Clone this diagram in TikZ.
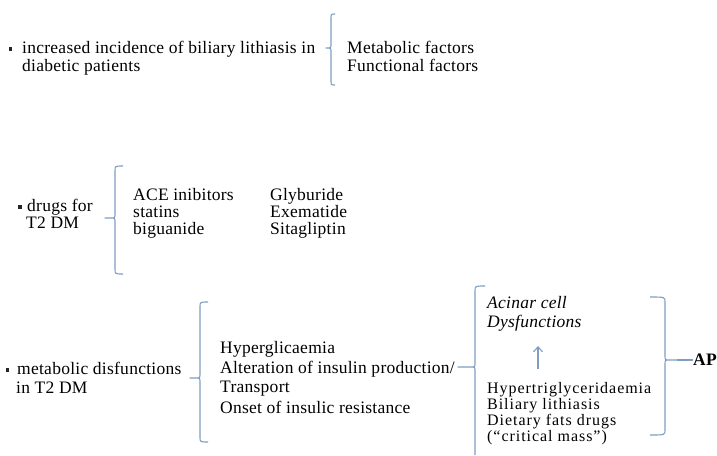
\documentclass[tikz,border=0pt]{standalone}
\usepackage{fontspec}
\setmainfont{Liberation Serif}[LetterSpace=1.5]
\usetikzlibrary{arrows.meta}
\definecolor{brc}{HTML}{7F9DC3}
\tikzset{
  brace/.style={draw=brc, line width=1.1pt, line join=round},
  txt/.style={anchor=base west, inner sep=0pt, text=black},
  txtsm/.style={txt, font=\fontsize{16}{17}\selectfont\addfontfeature{LetterSpace=6}},
  bul/.style={rectangle, fill=black!85, inner sep=0pt, minimum size=3.5pt},
  uparrow/.style={draw=brc, line width=1.1pt, -{Straight Barb[length=5pt,width=9pt]}},
}
% left brace: x, top, mid, bottom, hook, tip
\newcommand\bracL[6]{%
  \draw[brace] ({#1+#5},#2) .. controls (#1,#2) .. (#1,{#2+5})
    -- (#1,{#3-5}) .. controls (#1,#3) .. ({#1-4},#3) -- ({#1-#6},#3)
    -- ({#1-4},#3) .. controls (#1,#3) .. (#1,{#3+5})
    -- (#1,{#4-5}) .. controls (#1,#4) .. ({#1+#5},#4);}
% right brace
\newcommand\bracR[6]{%
  \draw[brace] ({#1-#5},#2) .. controls (#1,#2) .. (#1,{#2+5})
    -- (#1,{#3-5}) .. controls (#1,#3) .. ({#1+4},#3) -- ({#1+#6},#3)
    -- ({#1+4},#3) .. controls (#1,#3) .. (#1,{#3+5})
    -- (#1,{#4-5}) .. controls (#1,#4) .. ({#1-#5},#4);}
\begin{document}
\begin{tikzpicture}[x=1pt,y=-1pt,font=\fontsize{17.5}{19}\selectfont]
\useasboundingbox[fill=white] (0,0) rectangle (717,455);

% block 1
\node[bul] (b1) at (10.5,49) {};
\node[txt] (t1a) at (22,53) {increased incidence of biliary lithiasis in};
\node[txt] (t1b) at (22,71) {diabetic patients};
\bracL{331}{14}{48}{85}{4}{5}
\node[txt] (m1) at (347,53) {Metabolic factors};
\node[txt] (m2) at (347,71) {Functional factors};

% block 2
\node[bul] (b2) at (20,207) {};
\node[txt] (t2a) at (27,211) {drugs for};
\node[txt] (t2b) at (26,228) {T2 DM};
\bracL{115}{166}{218}{274}{8}{10}
\node[txt] (d1) at (133,200) {ACE inibitors};
\node[txt] (d2) at (133,217) {statins};
\node[txt] (d3) at (133,234) {biguanide};
\node[txt] (d4) at (270,200) {Glyburide};
\node[txt] (d5) at (270,217) {Exematide};
\node[txt] (d6) at (270,234) {Sitagliptin};

% block 3
\node[bul] (b3) at (7.5,370) {};
\node[txt] (t3a) at (17,374) {metabolic disfunctions};
\node[txt] (t3b) at (16,393) {in T2 DM};
\bracL{200}{302}{378}{442}{8}{10}
\node[txt] (h1) at (220,353) {Hyperglicaemia};
\node[txt] (h2) at (220,373) {Alteration of insulin production/};
\node[txt] (h3) at (220,392) {Transport};
\node[txt] (h4) at (220,413) {Onset of insulic resistance};

% brace 4 (runs off the bottom edge)
\draw[brace] (485,286) .. controls (475,286) .. (475,291)
  -- (475,362) .. controls (475,367) .. (471,367) -- (458,367)
  -- (471,367) .. controls (475,367) .. (475,372) -- (475,455);

\node[txt,font=\fontsize{17.5}{19}\selectfont\itshape] (a1) at (487,308) {Acinar cell};
\node[txt,font=\fontsize{17.5}{19}\selectfont\itshape] (a2) at (487,327) {Dysfunctions};
\coordinate (arS) at (538,369);
\coordinate (arE) at (538,346);
\draw[uparrow] (arS) -- (arE);
\node[txtsm] (c1) at (487,393) {Hypertriglyceridaemia};
\node[txtsm] (c2) at (487,409) {Biliary lithiasis};
\node[txtsm] (c3) at (487,425) {Dietary fats drugs};
\node[txtsm] (c4) at (487,441) {(“critical mass”)};

\bracR{665}{297}{360}{435}{15}{12}
\coordinate (tip5) at (677,360);
\node[txt,font=\fontsize{17.5}{19}\selectfont\bfseries] (ap) at (693,365) {AP};
\draw[brace] (tip5) -- (ap.west |- tip5);
\end{tikzpicture}
\end{document}
